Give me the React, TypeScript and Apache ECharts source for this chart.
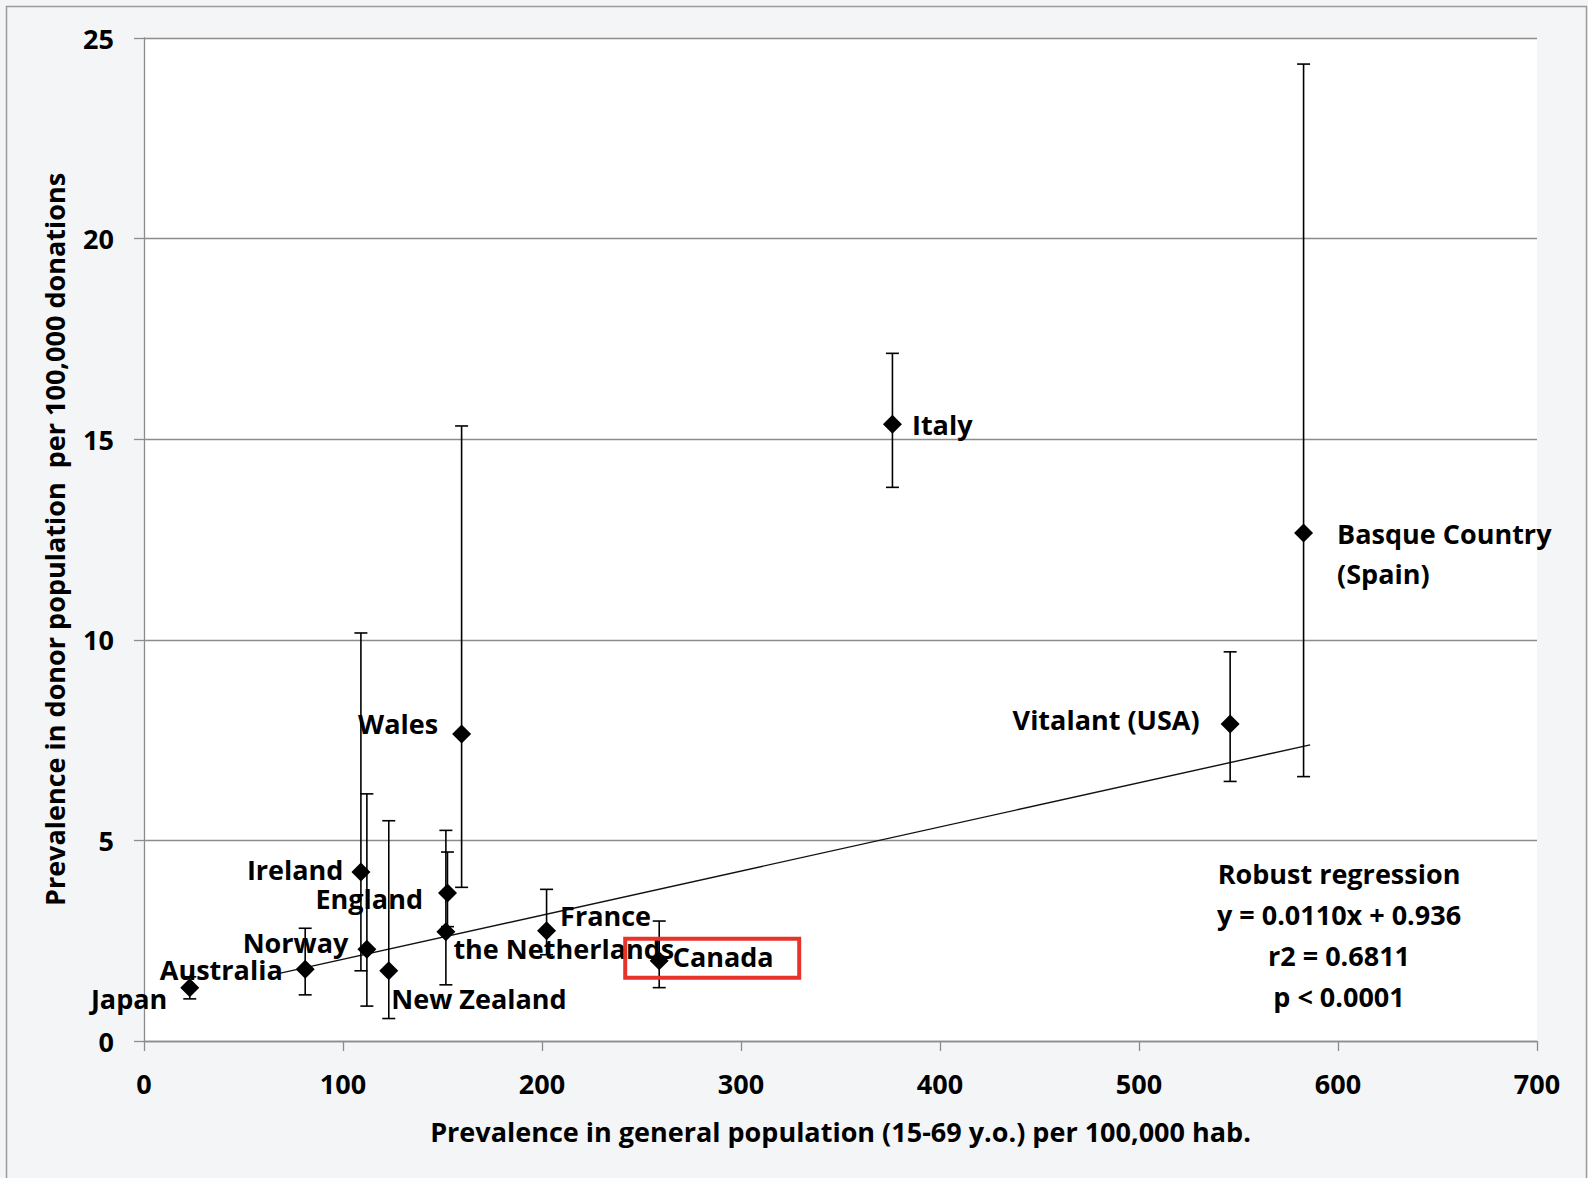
import React, { useEffect, useRef } from "react";
import * as echarts from "echarts";

// ---- data ----
const countries = [
  "Japan", "Australia", "Norway", "Ireland", "New Zealand", "England",
  "the Netherlands", "Wales", "France", "Canada", "Italy", "Vitalant (USA)",
  "Basque Country\n(Spain)",
];
const generalPrev = [23, 81, 112, 109, 123, 152.5, 151.7, 159.6, 202.3, 258.9, 376.1, 545.8, 582.7];
const donorPrev = [1.33, 1.79, 2.29, 4.21, 1.75, 3.69, 2.72, 7.65, 2.75, 2.0, 15.37, 7.9, 12.66];
const ciLow = [1.05, 1.15, 0.87, 1.75, 0.56, 2.85, 1.4, 3.83, 2.15, 1.33, 13.8, 6.47, 6.59];
const ciHigh = [1.6, 2.81, 6.16, 10.17, 5.49, 4.71, 5.25, 15.33, 3.78, 2.99, 17.14, 9.7, 24.35];
const regressionX = [68, 586];
const regressionY = [1.684, 7.382];
const xTicks = [0, 100, 200, 300, 400, 500, 600, 700];
const yTicks = [0, 5, 10, 15, 20, 25];
const regressionText = ["Robust regression", "y = 0.0110x + 0.936", "r2 = 0.6811", "p < 0.0001"];
const highlighted = "Canada";

// ---- label placement (style only) ----
const labelPlacement: Record<string, { pos: "left" | "right"; dx: number; dy: number }> = {
  "Japan": { pos: "left", dx: -13, dy: 11 },
  "Australia": { pos: "left", dx: -13, dy: 0 },
  "Norway": { pos: "left", dx: -9, dy: -7 },
  "Ireland": { pos: "left", dx: -8, dy: -3 },
  "New Zealand": { pos: "right", dx: -7, dy: 28 },
  "England": { pos: "left", dx: -15, dy: 6 },
  "the Netherlands": { pos: "right", dx: -2, dy: 17 },
  "Wales": { pos: "left", dx: -14, dy: -11 },
  "France": { pos: "right", dx: 4, dy: -15 },
  "Canada": { pos: "right", dx: 4, dy: -4 },
  "Italy": { pos: "right", dx: 10, dy: 0 },
  "Vitalant (USA)": { pos: "left", dx: -21, dy: -5 },
  "Basque Country\n(Spain)": { pos: "right", dx: 24, dy: 20 },
};

const FONT = "'Open Sans'";
const FS = 27;
const AXIS_COLOR = "#8c8c8c";

export default function App() {
  const ref = useRef<HTMLDivElement>(null);

  useEffect(() => {
    if (!ref.current) return;
    const chart = echarts.init(ref.current, undefined, { renderer: "svg" });

    const points = countries.map((c, i) => {
      const p = labelPlacement[c];
      return {
        name: c,
        value: [generalPrev[i], donorPrev[i]],
        label: {
          show: true,
          formatter: "{b}",
          position: p.pos,
          distance: 0,
          offset: [p.dx, p.dy],
          align: p.pos === "left" ? "right" : "left",
          color: "#000",
          fontFamily: FONT,
          fontWeight: "bold",
          fontSize: FS,
          lineHeight: 40,
        },
      };
    });

    const errData = countries.map((c, i) => [generalPrev[i], ciLow[i], ciHigh[i]]);

    const option: any = {
      animation: false,
      backgroundColor: "#f4f5f7",
      grid: { left: 144, top: 38, width: 1393, height: 1003, show: true, backgroundColor: "#ffffff", borderWidth: 0 },
      xAxis: {
        type: "value",
        min: 0,
        max: 700,
        interval: 100,
        name: "Prevalence in general population (15-69 y.o.) per 100,000 hab.",
        nameLocation: "middle",
        nameGap: 77,
        nameTextStyle: { fontFamily: FONT, fontWeight: "bold", fontSize: FS, color: "#000" },
        axisLine: { show: true, onZero: false, lineStyle: { color: AXIS_COLOR, width: 1.3 } },
        axisTick: { show: true, inside: false, length: 10, lineStyle: { color: AXIS_COLOR, width: 1.3 } },
        axisLabel: {
          margin: 29,
          fontFamily: FONT,
          fontWeight: "bold",
          fontSize: FS,
          color: "#000",
          formatter: (v: number) => (xTicks.includes(v) ? String(v) : ""),
        },
        splitLine: { show: false },
      },
      yAxis: {
        type: "value",
        min: 0,
        max: 25,
        interval: 5,
        name: "Prevalence in donor population  per 100,000 donations",
        nameLocation: "middle",
        nameGap: 76,
        nameTextStyle: { fontFamily: FONT, fontWeight: "bold", fontSize: FS, color: "#000" },
        axisLine: { show: true, lineStyle: { color: AXIS_COLOR, width: 1.3 } },
        axisTick: { show: true, inside: false, length: 10, lineStyle: { color: AXIS_COLOR, width: 1.3 } },
        axisLabel: {
          margin: 30,
          fontFamily: FONT,
          fontWeight: "bold",
          fontSize: FS,
          color: "#000",
          formatter: (v: number) => (yTicks.includes(v) ? String(v) : ""),
        },
        splitLine: { show: true, lineStyle: { color: AXIS_COLOR, width: 1.3 } },
      },
      series: [
        {
          type: "line",
          data: regressionX.map((x, i) => [x, regressionY[i]]),
          symbol: "none",
          lineStyle: { color: "#111", width: 1.4 },
          z: 2,
        },
        {
          type: "custom",
          data: errData,
          z: 3,
          renderItem: (params: any, api: any) => {
            const x = api.value(0);
            const lo = api.value(1);
            const hi = api.value(2);
            const top = api.coord([x, hi]);
            const bot = api.coord([x, lo]);
            const hw = 6.5;
            const style = { stroke: "#000", lineWidth: 1.6 };
            return {
              type: "group",
              children: [
                { type: "line", shape: { x1: top[0], y1: top[1], x2: bot[0], y2: bot[1] }, style },
                { type: "line", shape: { x1: top[0] - hw, y1: top[1], x2: top[0] + hw, y2: top[1] }, style },
                { type: "line", shape: { x1: bot[0] - hw, y1: bot[1], x2: bot[0] + hw, y2: bot[1] }, style },
              ],
            };
          },
        },
        {
          type: "scatter",
          data: points,
          symbol: "diamond",
          symbolSize: 19,
          itemStyle: { color: "#000", opacity: 1 },
          z: 5,
        },
      ],
      graphic: [
        {
          type: "rect",
          shape: { x: 6.5, y: 6.5, width: 1580, height: 1200 },
          style: { fill: "none", stroke: "#9a9a9a", lineWidth: 1.5 },
          z: 100,
        },
        {
          type: "text",
          x: 1339,
          y: 853,
          style: {
            text: regressionText.join("\n"),
            align: "center",
            verticalAlign: "top",
            lineHeight: 41,
            fontFamily: FONT,
            fontWeight: "bold",
            fontSize: FS,
            fill: "#000",
          },
          z: 100,
        },
      ],
    };

    chart.setOption(option);

    // red highlight box around the highlighted country's point and label
    const idx = countries.indexOf(highlighted);
    const px = chart.convertToPixel({ gridIndex: 0 }, [generalPrev[idx], donorPrev[idx]]) as number[];
    if (px) {
      chart.setOption({
        graphic: [
          option.graphic[0],
          option.graphic[1],
          {
            type: "rect",
            shape: { x: px[0] - 34, y: px[1] - 22, width: 174, height: 39 },
            style: { fill: "none", stroke: "#e8332a", lineWidth: 4 },
            z: 101,
          },
        ],
      });
    }

    return () => chart.dispose();
  }, []);

  return (
    <div
      ref={ref}
      style={{ position: "absolute", left: 0, top: 0, width: 1588, height: 1178 }}
    />
  );
}
